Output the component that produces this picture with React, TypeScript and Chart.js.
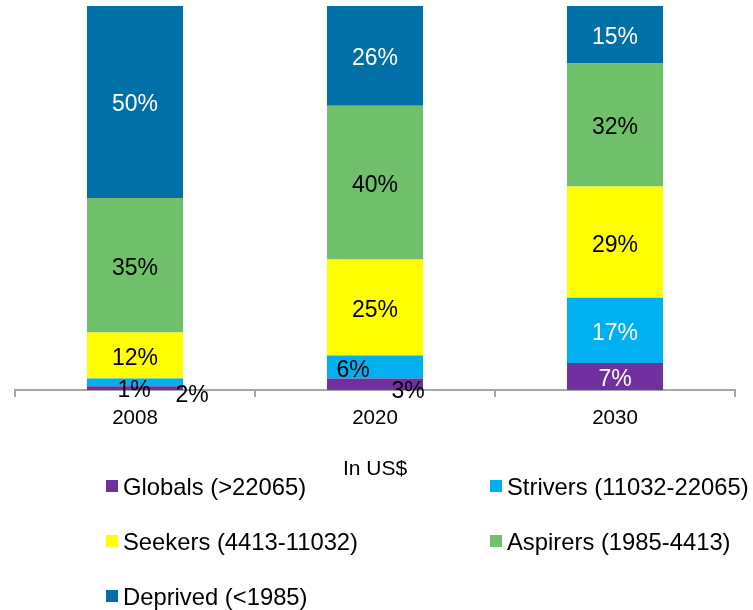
import React, { useEffect, useRef } from "react";
import { Chart, registerables } from "chart.js";

Chart.register(...registerables);

const categories = ["2008", "2020", "2030"];
const seriesNames = [
  "Globals (>22065)",
  "Strivers (11032-22065)",
  "Seekers (4413-11032)",
  "Aspirers (1985-4413)",
  "Deprived (<1985)",
];
const globals = [1, 3, 7];
const strivers = [2, 6, 17];
const seekers = [12, 25, 29];
const aspirers = [35, 40, 32];
const deprived = [50, 26, 15];
const axisTitle = "In US$";

const seriesValues = [globals, strivers, seekers, aspirers, deprived];
const seriesColors = ["#7030A0", "#00B0F0", "#FFFF00", "#70BF6B", "#0070A6"];
const labelColors = ["#FFFFFF", "#FFFFFF", "#000000", "#000000", "#FFFFFF"];

// manual label moves (dataset index, category index) -> [dx, dy, color]
const labelMoves: Record<string, [number, number, string]> = {
  "0-0": [-1, 0, "#000000"],
  "1-0": [57, 10, "#000000"],
  "0-1": [33, 4, "#000000"],
  "1-1": [-22, 1, "#000000"],
};

// legend layout: [markerX, centerY] per legend item
const legendSlots: [number, number][] = [
  [106, 486],
  [490, 486],
  [106, 541],
  [490, 541],
  [106, 596],
];

const FONT = "'Liberation Sans', Arial, sans-serif";

const overlayPlugin = {
  id: "overlay",
  afterDatasetsDraw(chart: any) {
    const ctx = chart.ctx;
    ctx.save();
    ctx.font = `23px ${FONT}`;
    ctx.textAlign = "center";
    ctx.textBaseline = "middle";
    chart.data.datasets.forEach((ds: any, di: number) => {
      const meta = chart.getDatasetMeta(di);
      meta.data.forEach((el: any, ci: number) => {
        const v = ds.data[ci];
        const move = labelMoves[`${di}-${ci}`];
        const cx = el.x + (move ? move[0] : 0);
        const cy = (el.y + el.base) / 2 + 3 + (move ? move[1] : 0);
        ctx.fillStyle = move ? move[2] : labelColors[di];
        ctx.fillText(`${v}%`, cx, cy);
      });
    });
    ctx.restore();
  },
  afterDraw(chart: any) {
    const ctx = chart.ctx;
    ctx.save();
    // axis title
    ctx.font = `21px ${FONT}`;
    ctx.fillStyle = "#000000";
    ctx.textAlign = "center";
    ctx.textBaseline = "middle";
    const xs = chart.scales.x;
    ctx.fillText(axisTitle, (xs.left + xs.right) / 2, 469);
    // legend
    ctx.font = `23.8px ${FONT}`;
    ctx.textAlign = "left";
    chart.data.datasets.forEach((ds: any, di: number) => {
      const [mx, my] = legendSlots[di];
      ctx.fillStyle = ds.backgroundColor;
      ctx.fillRect(mx, my - 6, 12, 12);
      ctx.fillStyle = "#000000";
      ctx.fillText(ds.label, mx + 17, my + 2);
    });
    ctx.restore();
  },
};

export default function App() {
  const ref = useRef<HTMLCanvasElement | null>(null);
  useEffect(() => {
    if (!ref.current) return;
    const chart = new Chart(ref.current, {
      type: "bar",
      data: {
        labels: categories,
        datasets: seriesNames.map((name, i) => ({
          label: name,
          data: seriesValues[i],
          backgroundColor: seriesColors[i],
          borderWidth: 0,
          barPercentage: 0.4,
          categoryPercentage: 1,
        })),
      },
      options: {
        responsive: false,
        animation: false,
        layout: { padding: { left: 15, right: 18, top: 6, bottom: 0 } },
        plugins: { legend: { display: false }, tooltip: { enabled: false }, title: { display: false } },
        scales: {
          x: {
            stacked: true,
            grid: {
              offset: true,
              drawOnChartArea: false,
              drawTicks: true,
              tickLength: 7,
              color: "#A6A6A6",
              lineWidth: 2,
            },
            border: { display: true, color: "#A6A6A6", width: 2 },
            ticks: { color: "#000000", font: { family: FONT, size: 20.5 }, padding: 9 },
            afterFit: (scale: any) => {
              scale.height = 220;
            },
          },
          y: { stacked: true, display: false, min: 0, max: 100 },
        },
      },
      plugins: [overlayPlugin],
    });
    return () => chart.destroy();
  }, []);
  return (
    <div style={{ position: "fixed", left: 0, top: 0, width: 753, height: 610, background: "#fff" }}>
      <canvas ref={ref} width={753} height={610} style={{ width: 753, height: 610 }} />
    </div>
  );
}
